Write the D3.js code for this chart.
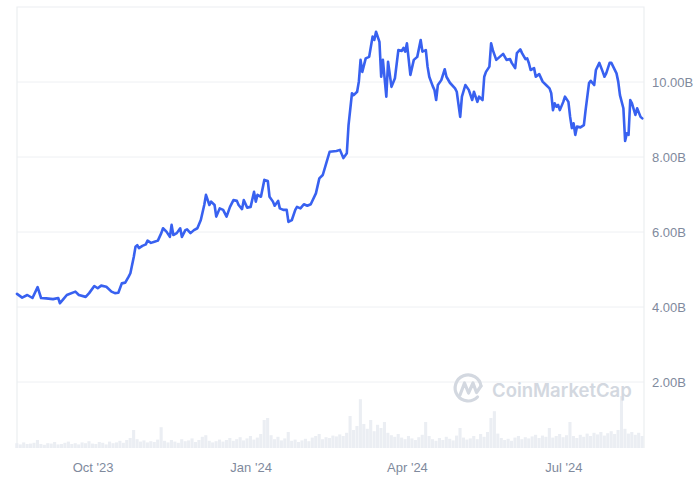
<!DOCTYPE html>
<html><head><meta charset="utf-8">
<script src="https://cdn.jsdelivr.net/npm/d3@7"></script>
<style>html,body{margin:0;padding:0;background:#fff;}svg{display:block;}</style>
</head><body>
<svg id="chart" width="699" height="481"></svg>
<script>
const dates = ["2023-08-18","2023-08-21","2023-08-24","2023-08-27","2023-08-30","2023-09-01","2023-09-04","2023-09-08","2023-09-11","2023-09-12",
"2023-09-14","2023-09-16","2023-09-21","2023-09-23","2023-09-27","2023-09-29","2023-10-02","2023-10-04","2023-10-06","2023-10-09",
"2023-10-12","2023-10-14","2023-10-16","2023-10-18","2023-10-20","2023-10-22","2023-10-23","2023-10-25","2023-10-26","2023-10-27",
"2023-10-28","2023-10-30","2023-11-01","2023-11-02","2023-11-04","2023-11-06","2023-11-08","2023-11-10","2023-11-11","2023-11-13",
"2023-11-15","2023-11-16","2023-11-17","2023-11-19","2023-11-21","2023-11-22","2023-11-24","2023-11-25","2023-11-27","2023-11-29",
"2023-12-01","2023-12-03","2023-12-05","2023-12-06","2023-12-08","2023-12-09","2023-12-11","2023-12-12","2023-12-14","2023-12-16",
"2023-12-18","2023-12-20","2023-12-22","2023-12-24","2023-12-25","2023-12-27","2023-12-28","2023-12-30","2024-01-01","2024-01-03",
"2024-01-04","2024-01-05","2024-01-07","2024-01-09","2024-01-11","2024-01-12","2024-01-14","2024-01-15","2024-01-17","2024-01-18",
"2024-01-20","2024-01-22","2024-01-23","2024-01-25","2024-01-27","2024-01-28","2024-01-30","2024-02-01","2024-02-03","2024-02-05",
"2024-02-08","2024-02-10","2024-02-12","2024-02-14","2024-02-16","2024-02-20","2024-02-22","2024-02-24","2024-02-26","2024-02-27",
"2024-02-29","2024-03-01","2024-03-03","2024-03-04","2024-03-05","2024-03-06","2024-03-08","2024-03-10","2024-03-12","2024-03-13",
"2024-03-14","2024-03-16","2024-03-17","2024-03-18","2024-03-20","2024-03-21","2024-03-23","2024-03-25","2024-03-27","2024-03-29",
"2024-03-30","2024-03-31","2024-04-01","2024-04-03","2024-04-05","2024-04-07","2024-04-09","2024-04-10","2024-04-12","2024-04-13",
"2024-04-14","2024-04-16","2024-04-17","2024-04-18","2024-04-19","2024-04-21","2024-04-23","2024-04-24","2024-04-26","2024-04-29",
"2024-04-30","2024-05-02","2024-05-03","2024-05-05","2024-05-07","2024-05-09","2024-05-10","2024-05-12","2024-05-13","2024-05-15",
"2024-05-16","2024-05-17","2024-05-19","2024-05-20","2024-05-21","2024-05-23","2024-05-25","2024-05-27","2024-05-29","2024-05-31",
"2024-06-01","2024-06-03","2024-06-04","2024-06-06","2024-06-07","2024-06-09","2024-06-10","2024-06-11","2024-06-12","2024-06-14",
"2024-06-15","2024-06-17","2024-06-19","2024-06-21","2024-06-23","2024-06-24","2024-06-25","2024-06-26","2024-06-27","2024-06-28",
"2024-06-29","2024-07-01","2024-07-02","2024-07-04","2024-07-05","2024-07-06","2024-07-07","2024-07-08","2024-07-09","2024-07-11",
"2024-07-13","2024-07-14","2024-07-16","2024-07-17","2024-07-19","2024-07-20","2024-07-22","2024-07-24","2024-07-25","2024-07-26",
"2024-07-28","2024-07-29","2024-08-01","2024-08-02","2024-08-03","2024-08-05","2024-08-06","2024-08-07","2024-08-08","2024-08-09",
"2024-08-10","2024-08-12","2024-08-13","2024-08-15","2024-08-16"];
const values = [4.35,4.25,4.32,4.24,4.53,4.24,4.23,4.21,4.24,4.10,
4.21,4.32,4.41,4.32,4.27,4.37,4.56,4.50,4.57,4.54,
4.41,4.37,4.38,4.63,4.65,4.81,4.90,5.34,5.61,5.65,
5.57,5.63,5.67,5.77,5.71,5.74,5.77,5.97,6.10,6.01,
5.87,6.19,5.92,5.97,6.10,5.87,6.05,6.07,5.97,6.05,
6.10,6.32,6.72,6.99,6.72,6.81,6.72,6.41,6.63,6.59,
6.41,6.67,6.85,6.83,6.72,6.61,6.85,6.65,6.67,7.07,
6.81,6.99,6.94,7.39,7.36,6.94,6.81,6.70,6.83,6.63,
6.59,6.59,6.27,6.32,6.59,6.67,6.63,6.74,6.70,6.74,
7.03,7.43,7.52,7.83,8.14,8.16,8.19,7.97,8.10,8.85,
9.70,9.65,9.74,10.01,10.59,10.27,10.63,10.67,11.21,11.12,
11.34,11.07,10.14,10.59,9.61,10.54,9.87,10.10,10.85,10.83,
10.91,10.81,11.03,10.19,10.59,10.67,11.12,10.81,10.85,10.41,
10.14,9.89,9.79,9.52,9.92,10.05,10.34,10.14,9.98,9.83,
9.74,9.07,9.61,9.92,9.79,9.52,9.74,9.47,9.61,9.52,
10.14,10.27,10.41,11.03,10.85,10.59,10.67,10.75,10.59,10.61,
10.51,10.37,10.77,10.87,10.77,10.61,10.63,10.50,10.32,10.37,
10.14,10.21,10.01,9.92,9.83,9.70,9.25,9.43,9.34,9.39,
9.25,9.47,9.61,9.47,9.07,8.77,8.90,8.59,8.81,8.79,
8.85,9.25,9.97,10.03,9.92,10.32,10.51,10.27,10.14,10.23,
10.51,10.51,10.23,10.01,9.65,9.30,8.43,8.63,8.59,9.52,
9.43,9.12,9.30,9.07,9.03];

// volume, one bar per two days starting at volumeStart
const volumeStart = "2023-08-18";
const volumeStepDays = 2;
const volumes = [0.12,0.09,0.14,0.10,0.11,0.13,0.20,0.10,0.08,0.12,
0.11,0.15,0.09,0.10,0.13,0.16,0.10,0.12,0.09,0.14,
0.12,0.17,0.11,0.10,0.15,0.13,0.09,0.16,0.12,0.14,
0.18,0.13,0.20,0.25,0.45,0.22,0.16,0.19,0.14,0.17,
0.15,0.21,0.52,0.18,0.14,0.20,0.16,0.13,0.22,0.17,
0.19,0.24,0.15,0.20,0.28,0.32,0.18,0.14,0.17,0.21,
0.16,0.20,0.25,0.18,0.22,0.27,0.19,0.24,0.30,0.21,
0.26,0.35,0.70,0.75,0.32,0.22,0.28,0.19,0.24,0.40,
0.18,0.21,0.15,0.19,0.23,0.17,0.26,0.30,0.35,0.22,
0.27,0.25,0.31,0.29,0.34,0.30,0.38,0.80,0.45,0.55,
1.22,0.60,0.48,0.70,0.42,0.58,0.50,0.65,0.38,0.32,
0.28,0.35,0.26,0.22,0.30,0.24,0.20,0.27,0.33,0.65,
0.30,0.22,0.18,0.25,0.20,0.28,0.23,0.19,0.31,0.50,
0.26,0.21,0.24,0.30,0.22,0.35,0.28,0.40,0.75,0.92,
0.36,0.25,0.20,0.23,0.18,0.26,0.30,0.22,0.27,0.24,
0.29,0.33,0.25,0.31,0.28,0.50,0.26,0.30,0.35,0.27,
0.32,0.65,0.30,0.25,0.33,0.28,0.36,0.30,0.38,0.34,
0.40,0.31,0.37,0.42,0.35,0.45,1.30,0.48,0.36,0.40,
0.33,0.38,0.30];

const yTicks = [2,4,6,8,10];
const xTickDates = ["2023-10-01","2024-01-01","2024-04-01","2024-07-01"];
const xTickLabels = ["Oct '23","Jan '24","Apr '24","Jul '24"];
const domainStart = "2023-08-18", domainEnd = "2024-08-17";

const parse = d3.utcParse("%Y-%m-%d");
const svg = d3.select("#chart");
const L = 17, R = 644, T = 7, B = 448;

const x = d3.scaleUtc().domain([parse(domainStart), parse(domainEnd)]).range([L, R]);
const y = d3.scaleLinear().domain([0, 12]).range([457, T]);
const yVol = d3.scaleLinear().domain([0, 1.5]).range([B, B - 60]);

// gridlines
svg.append("g").selectAll("line").data(yTicks).join("line")
  .attr("x1", L).attr("x2", R).attr("y1", d => y(d)).attr("y2", d => y(d))
  .attr("stroke", "#eef0f3").attr("stroke-width", 1);

// frame
svg.append("path")
  .attr("d", `M${L},${B}V${T}H${R}V${B}`)
  .attr("fill", "none").attr("stroke", "#eceef1").attr("stroke-width", 1.2);

// volume bars
const vStart = parse(volumeStart);
const vData = volumes.map((v, i) => ({date: d3.utcDay.offset(vStart, i * volumeStepDays), v}));
const bw = x(d3.utcDay.offset(vStart, volumeStepDays)) - x(vStart);
svg.append("g").selectAll("rect").data(vData).join("rect")
  .attr("x", d => x(d.date) - bw * 0.5)
  .attr("width", bw * 0.9)
  .attr("y", d => yVol(d.v))
  .attr("height", d => B - yVol(d.v))
  .attr("fill", "#ebeef3");

// watermark
const wm = svg.append("g").attr("fill", "none").attr("stroke", "#d3d8e0").attr("stroke-width", 3.2)
  .attr("stroke-linecap", "round").attr("stroke-linejoin", "round");
wm.append("path").attr("d", "M477.5,397 A13,13 0 1 1 481,386");
wm.append("path").attr("d", "M460,395 L464.5,383 L468.5,393 L473,383 L476.5,392.5 L481,386");
svg.append("text").attr("x", 492).attr("y", 396.5)
  .attr("font-family", "Inter, 'Open Sans', sans-serif").attr("font-weight", 600)
  .attr("font-size", 18.5).attr("fill", "#d3d8e0").text("CoinMarketCap");

// price line
const line = d3.line().x((d, i) => x(parse(dates[i]))).y(d => y(d)).curve(d3.curveLinear);
svg.append("path").datum(values)
  .attr("d", line).attr("fill", "none")
  .attr("stroke", "#3861f0").attr("stroke-width", 2.6)
  .attr("stroke-linejoin", "round").attr("stroke-linecap", "round");

// y axis labels (right)
const yAxis = d3.axisRight(y).tickValues(yTicks).tickSize(0).tickPadding(0)
  .tickFormat(d => d3.format(".2f")(d) + "B");
const gy = svg.append("g").attr("transform", `translate(${R + 8},0)`).call(yAxis);
gy.select(".domain").remove();
gy.selectAll("text").attr("font-family", "'Liberation Sans', Arial, sans-serif")
  .attr("font-size", 13).attr("fill", "#808a9d").attr("dy", "0.35em");

// x axis labels
const xAxis = d3.axisBottom(x).tickValues(xTickDates.map(parse)).tickSize(0).tickPadding(0)
  .tickFormat((d, i) => xTickLabels[i]);
const gx = svg.append("g").attr("transform", `translate(0,${B + 15})`).call(xAxis);
gx.select(".domain").remove();
gx.selectAll("text").attr("font-family", "'Liberation Sans', Arial, sans-serif")
  .attr("font-size", 13).attr("fill", "#808a9d").attr("dy", "0.71em");
</script>
</body></html>
